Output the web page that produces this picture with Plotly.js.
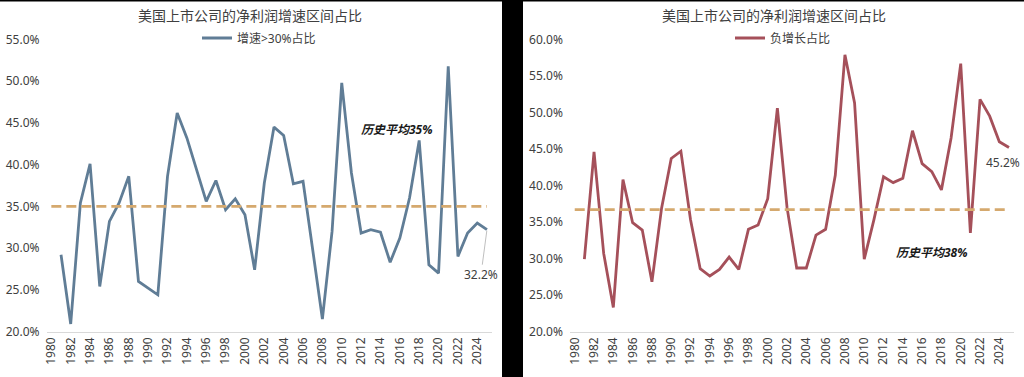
<!DOCTYPE html>
<html>
<head>
<meta charset="utf-8">
<script src="https://cdn.plot.ly/plotly-3.0.1.min.js"></script>
<style>
html,body{margin:0;padding:0;background:#fff;}
#chart{width:1024px;height:377px;}
</style>
</head>
<body>
<div id="chart"></div>
<script>
// ---- data ----
const years = [];
for (let y = 1980; y <= 2025; y++) years.push(y);

const chartTitle = "美国上市公司的净利润增速区间占比";
const leftName = "增速>30%占比";
const rightName = "负增长占比";

// 1980 has no value
const highGrowthShare = [null,
  29.2, 20.9, 35.4, 40.1, 25.4, 33.2, 35.4, 38.6, 26.0, 25.2,
  24.4, 38.6, 46.2, 43.2, 39.4, 35.6, 38.1, 34.6, 35.9, 34.0,
  27.4, 37.8, 44.5, 43.5, 37.7, 38.0, 29.8, 21.5, 32.0, 49.8,
  39.0, 31.8, 32.2, 31.9, 28.3, 31.2, 36.0, 42.9, 28.0, 27.0,
  51.8, 29.0, 31.8, 33.0, 32.2];

const negativeShare = [null,
  29.9, 44.6, 30.7, 23.3, 40.8, 34.9, 33.9, 26.8, 36.9, 43.7,
  44.7, 35.3, 28.6, 27.6, 28.5, 30.2, 28.5, 34.0, 34.6, 38.2,
  50.6, 37.0, 28.7, 28.7, 33.2, 34.0, 41.4, 57.9, 51.3, 29.9,
  35.3, 41.2, 40.4, 41.0, 47.5, 43.0, 41.9, 39.4, 46.5, 56.7,
  33.5, 51.8, 49.5, 46.0, 45.2];

const leftAvgLine = 35.0;    // dashed line level
const rightAvgLine = 36.7;   // dashed line level
const leftAvgLabel = "历史平均35%";
const rightAvgLabel = "历史平均38%";

const leftYRange = [20, 55];
const rightYRange = [20, 60];

// ---- styles ----
const FONT = "Noto Sans, Noto Sans CJK SC, sans-serif";
const TXT = "#404040";
const leftColor = "#607D96";
const rightColor = "#A5505A";
const avgColor = "#D5A96E";

const W = 1024, H = 377;
const px = v => v / W;
const py = v => (H - v) / H;

const yDomain = [py(331.5), py(39.5)];

const traces = [
  {x: years, y: highGrowthShare, type: "scatter", mode: "lines", name: leftName,
   line: {color: leftColor, width: 2.8}, xaxis: "x", yaxis: "y", legend: "legend",
   connectgaps: false},
  {x: years, y: years.map(() => leftAvgLine), type: "scatter", mode: "lines",
   showlegend: false, line: {color: avgColor, width: 2.8, dash: "10px,5px"},
   xaxis: "x", yaxis: "y"},
  {x: years, y: negativeShare, type: "scatter", mode: "lines", name: rightName,
   line: {color: rightColor, width: 2.8}, xaxis: "x2", yaxis: "y2", legend: "legend2"},
  {x: years, y: years.map(() => rightAvgLine), type: "scatter", mode: "lines",
   showlegend: false, line: {color: avgColor, width: 2.8, dash: "10px,5px"},
   xaxis: "x2", yaxis: "y2"}
];

function xAxis(domain, anchor) {
  return {
    domain: domain, anchor: anchor,
    range: [years[0] - 0.5, years[years.length - 1] + 0.5],
    tick0: 1980, dtick: 2, tickangle: -90,
    showgrid: false, zeroline: false,
    showline: true, linecolor: "#D9D9D9", linewidth: 1,
    ticks: "", tickfont: {family: FONT, size: 12, color: TXT},
    fixedrange: true
  };
}
function yAxis(range, anchor) {
  return {
    domain: yDomain, anchor: anchor, range: range, dtick: 5,
    tickformat: ".1f", ticksuffix: "%",
    showgrid: false, zeroline: false, showline: false, ticks: "",
    tickfont: {family: FONT, size: 12, color: TXT},
    ticklabelstandoff: 6,
    fixedrange: true
  };
}

const lastIdx = years.length - 1;

const layout = {
  width: W, height: H,
  margin: {l: 0, r: 0, t: 0, b: 0},
  paper_bgcolor: "#ffffff", plot_bgcolor: "rgba(0,0,0,0)",
  font: {family: FONT, color: TXT},
  xaxis: xAxis([px(46.5), px(491.8)], "y"),
  yaxis: yAxis(leftYRange, "x"),
  xaxis2: xAxis([px(569.9), px(1013.8)], "y2"),
  yaxis2: yAxis(rightYRange, "x2"),
  legend: {x: px(197), y: py(38), xanchor: "left", yanchor: "middle",
           bgcolor: "rgba(0,0,0,0)", font: {family: FONT, size: 12, color: TXT}},
  legend2: {x: px(730), y: py(38), xanchor: "left", yanchor: "middle",
            bgcolor: "rgba(0,0,0,0)", font: {family: FONT, size: 12, color: TXT}},
  shapes: [
    {type: "rect", xref: "paper", yref: "paper", x0: px(502), x1: px(523), y0: 0, y1: 1,
     fillcolor: "#000000", line: {width: 0}, layer: "below"},
    {type: "rect", xref: "paper", yref: "paper", x0: 0, x1: 1, y0: py(1.5), y1: 1,
     fillcolor: "#000000", line: {width: 0}, layer: "below"}
  ],
  annotations: [
    {text: chartTitle, xref: "paper", yref: "paper", x: px(250), y: py(15),
     xanchor: "center", yanchor: "middle", showarrow: false,
     font: {family: FONT, size: 14, color: TXT}},
    {text: chartTitle, xref: "paper", yref: "paper", x: px(773.5), y: py(15),
     xanchor: "center", yanchor: "middle", showarrow: false,
     font: {family: FONT, size: 14, color: TXT}},
    {text: "<b><i>" + leftAvgLabel + "</i></b>", xref: "paper", yref: "paper",
     x: px(397), y: py(129), xanchor: "center", yanchor: "middle", showarrow: false,
     font: {family: FONT, size: 12, color: "#1a1a1a"}},
    {text: "<b><i>" + rightAvgLabel + "</i></b>", xref: "paper", yref: "paper",
     x: px(932), y: py(252), xanchor: "center", yanchor: "middle", showarrow: false,
     font: {family: FONT, size: 12, color: "#1a1a1a"}},
    {text: highGrowthShare[lastIdx].toFixed(1) + "%", xref: "x", yref: "y",
     x: years[lastIdx], y: highGrowthShare[lastIdx],
     showarrow: true, arrowhead: 0, arrowwidth: 1, arrowcolor: "#BFBFBF",
     ax: -6, ay: 45, standoff: 1,
     font: {family: FONT, size: 12, color: TXT}},
    {text: negativeShare[lastIdx].toFixed(1) + "%", xref: "x2", yref: "y2",
     x: years[lastIdx], y: negativeShare[lastIdx],
     showarrow: false, xshift: -5.5, yshift: -15,
     font: {family: FONT, size: 12, color: TXT}}
  ],
  showlegend: true
};

Plotly.newPlot("chart", traces, layout, {displayModeBar: false, staticPlot: true});
</script>
</body>
</html>
